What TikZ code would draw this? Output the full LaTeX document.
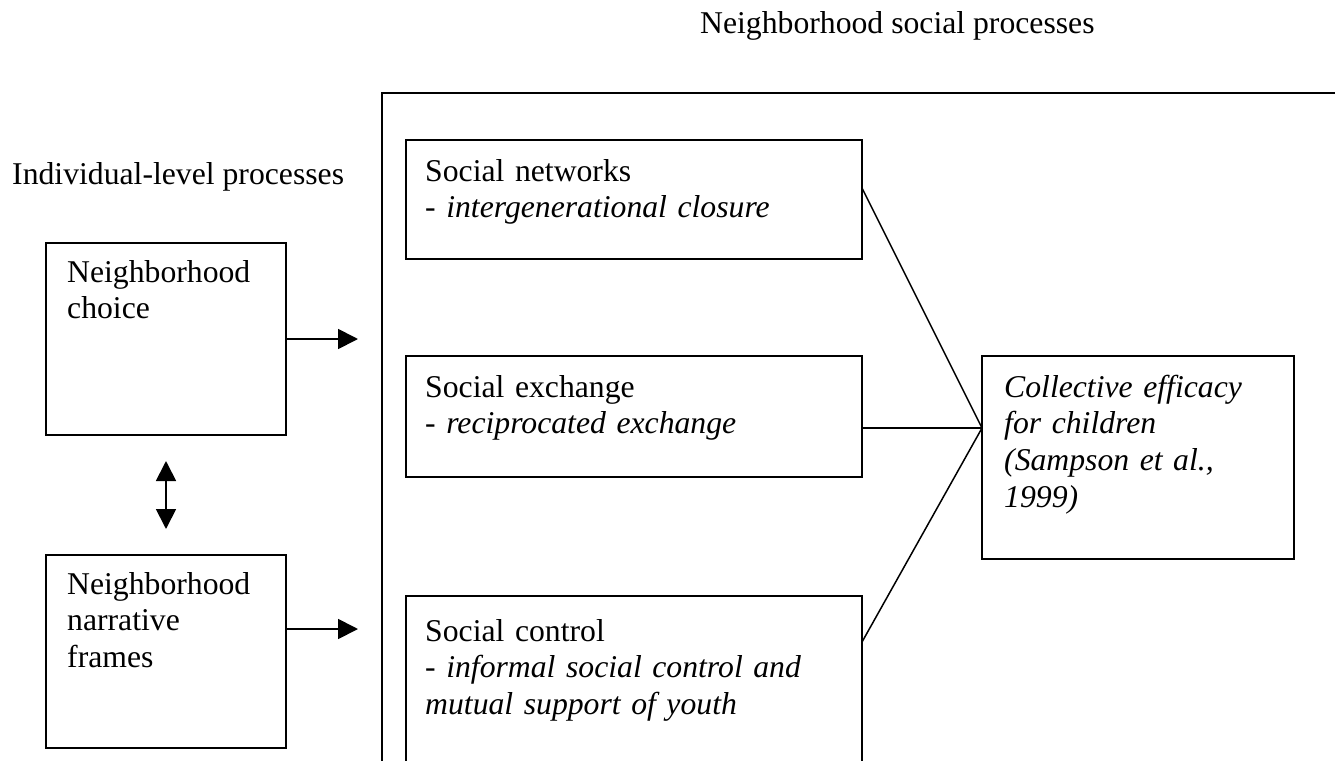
\documentclass[tikz,border=0pt]{standalone}
\usepackage{fontspec}
\setmainfont{Liberation Serif}
\usetikzlibrary{arrows.meta}

\begin{document}
\begin{tikzpicture}[
      x=1pt, y=-1pt,
      font=\fontsize{31.7}{36.8}\selectfont,
      box/.style={draw, rectangle, line width=2pt, inner sep=0pt, outer sep=0pt, anchor=north west},
      boxtext/.style={anchor=base west, inner sep=0pt, align=left, text width=#1},
      heading/.style={anchor=base west, inner sep=0pt},
      link/.style={line width=1.5pt},
      push/.style={line width=1.8pt, -{Triangle[length=20pt, width=20pt]}},
      both/.style={line width=1.8pt, {Triangle[length=20pt, width=20pt]}-{Triangle[length=20pt, width=20pt]}}
    ]
    \clip (0,0) rectangle (1335,760);
    % Headings
    \node [heading] (hoodtitle) at (700,34) {Neighborhood social processes};
    \node [heading] (indtitle) at (12,184) {Individual-level processes};
    % Neighborhood frame, running off the page
    \node [box, line width=2.8pt, minimum width=1100pt, minimum height=800pt] (hood) at (382,93) {};
    % Individual-level boxes
    \node [box, minimum width=240pt, minimum height=192pt] (choice) at (46,243) {};
    \node [box, minimum width=240pt, minimum height=193pt] (narr) at (46,555) {};
    \node [boxtext=210pt] (choicetext) at ([xshift=21pt, yshift=-39pt]choice.north west) {Neighborhood\\choice};
    \node [boxtext=210pt] (narrtext) at ([xshift=21pt, yshift=-39pt]narr.north west) {Neighborhood\\narrative\\frames};
    % Neighborhood boxes
    \node [box, minimum width=456pt, minimum height=119pt] (networks) at (406,140) {};
    \node [box, minimum width=456pt, minimum height=121pt] (exchange) at (406,356) {};
    \node [box, minimum width=456pt, minimum height=220pt] (control) at (406,596) {};
    \node [box, minimum width=312pt, minimum height=203pt] (efficacy) at (982,356) {};
    \node [boxtext=430pt] (networkstext) at ([xshift=19pt, yshift=-41pt]networks.north west) {Social networks\\- \textit{intergenerational closure}};
    \node [boxtext=430pt] (exchangetext) at ([xshift=19pt, yshift=-41pt]exchange.north west) {Social exchange\\- \textit{reciprocated exchange}};
    \node [boxtext=430pt] (controltext) at ([xshift=19pt, yshift=-45pt]control.north west) {Social control\\- \textit{informal social control and}\\\textit{mutual support of youth}};
    \node [boxtext=285pt] (efficacytext) at ([xshift=22pt, yshift=-41pt]efficacy.north west) {\itshape Collective efficacy\\for children\\(Sampson et al.,\\1999)};
    % Links into collective efficacy
    \coordinate (meet) at ([yshift=-72pt]efficacy.north west);
    \draw [link] ([yshift=-48pt]networks.north east) -- (meet);
    \draw [link] (exchange.east |- meet) -- (meet);
    \draw [link] ([yshift=-46pt]control.north east) -- (meet);
    % Arrows
    \coordinate (choicetip) at (358,339);
    \coordinate (narrtip) at (358,629);
    \draw [push] (choice.east) -- (choicetip);
    \draw [push] (narr.east |- narrtip) -- (narrtip);
    \draw [both] ([yshift=-26pt]choice.south) -- ([yshift=26pt]narr.north);
\end{tikzpicture}
\end{document}
